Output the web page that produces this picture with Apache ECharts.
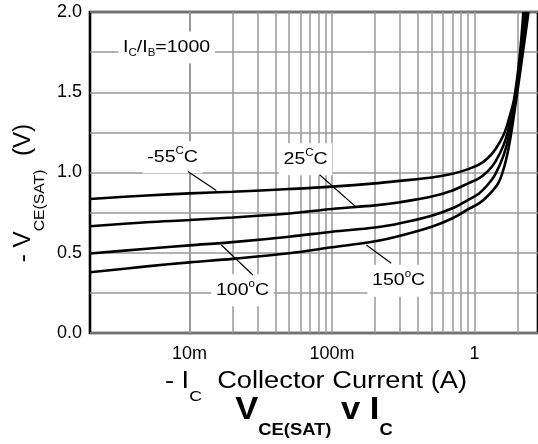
<!DOCTYPE html>
<html>
<head>
<meta charset="utf-8">
<script src="https://cdn.jsdelivr.net/npm/echarts@6/dist/echarts.min.js"></script>
<style>
html,body{margin:0;padding:0;background:#fff}
#main{width:538px;height:444px}
</style>
</head>
<body>
<div id="main"></div>
<script>
// [collector current (A), VCE(sat) (V)]
var curveM55 = [[0.002,0.835],[0.005,0.857],[0.01,0.870],[0.02,0.880],[0.05,0.897],[0.1,0.912],[0.2,0.932],[0.3,0.948],[0.5,0.969],[0.7,0.992],[0.9,1.021],[1.08,1.05],[1.24,1.09],[1.4,1.145],[1.6,1.235],[1.75,1.34],[1.9,1.465],[2.07,1.72],[2.2,2.0]];
var curve25 = [[0.002,0.665],[0.005,0.69],[0.01,0.704],[0.02,0.72],[0.05,0.745],[0.1,0.773],[0.2,0.795],[0.3,0.815],[0.5,0.85],[0.7,0.888],[0.9,0.932],[1.08,0.965],[1.24,1.008],[1.4,1.068],[1.6,1.172],[1.75,1.29],[1.9,1.445],[2.1,1.72],[2.26,2.0]];
var curve100 = [[0.002,0.495],[0.005,0.525],[0.01,0.546],[0.02,0.566],[0.05,0.6],[0.1,0.631],[0.2,0.657],[0.3,0.684],[0.5,0.731],[0.7,0.777],[0.9,0.829],[1.08,0.871],[1.24,0.925],[1.4,0.99],[1.6,1.108],[1.76,1.246],[1.93,1.455],[2.15,1.75],[2.32,2.0]];
var curve150 = [[0.002,0.378],[0.005,0.415],[0.01,0.44],[0.02,0.462],[0.05,0.497],[0.1,0.534],[0.2,0.572],[0.3,0.606],[0.5,0.662],[0.7,0.715],[0.9,0.771],[1.08,0.809],[1.24,0.855],[1.46,0.93],[1.62,1.04],[1.76,1.185],[1.96,1.455],[2.2,1.77],[2.39,2.0]];

var xTickValues = [0.01, 0.1, 1];
var xTickLabels = ['10m', '100m', '1'];

// labels: text, centre and leader line in data coords
var labelTexts = ['{a|-55}{p|C}{a|C}', '{a|25}{p|C}{a|C}', '{a|100}{p|o}{a|C}', '{a|150}{p|o}{a|C}', '{a|I}{s|C}{a|/I}{s|B}{a|=1000}'];
var labelAt = [[0.0076,1.095],[0.0652,1.0825],[0.0235,0.267],[0.293,0.326],[0.0069,1.779]];
var leaderFrom = [[0.00973,1.006],[0.0817,0.986],[0.0167,0.548],[0.174,0.548],null];
var leaderTo = [[0.0154,0.8875],[0.149,0.781],[0.0278,0.361],[0.26,0.434],null];

var FONT = 'Liberation Sans';

// grey vertical grid at 1..9 of every decade
var vGrid = [];
[0.001, 0.01, 0.1, 1].forEach(function (d) {
    for (var m = 1; m <= 9; m++) {
        var v = +(m * d).toPrecision(3);
        if (v > 0.002 && v <= 2.7) vGrid.push({xAxis: v});
    }
});

function curve(name, data) {
    return {
        name: name, type: 'line', data: data, showSymbol: false, smooth: 0.35,
        lineStyle: {color: '#000', width: 2.6}, silent: true, z: 5
    };
}

var series = [curve('-55', curveM55), curve('25', curve25), curve('100', curve100), curve('150', curve150)];
series[0].markLine = {
    silent: true, symbol: 'none', label: {show: false}, z: 1,
    lineStyle: {color: '#999', width: 1.5, type: 'solid'},
    data: vGrid
};

var myChart = echarts.init(document.getElementById('main'));
myChart.setOption({
    animation: false,
    grid: {left: 90, top: 12, width: 448, height: 321, show: true, borderColor: '#000', borderWidth: 2.6},
    xAxis: {
        type: 'log', logBase: 10, min: 0.002, max: 2.786,
        axisLine: {show: false}, axisTick: {show: false}, splitLine: {show: false},
        axisLabel: {
            interval: 0, color: '#000', fontFamily: FONT, fontSize: 18, margin: 12,
            showMinLabel: false, showMaxLabel: false,
            formatter: function (v) {
                for (var i = 0; i < xTickValues.length; i++) {
                    if (Math.abs(v / xTickValues[i] - 1) < 1e-6) return xTickLabels[i];
                }
                return '';
            }
        }
    },
    yAxis: {
        type: 'value', min: 0, max: 2, interval: 0.5,
        axisLine: {show: false}, axisTick: {show: false},
        splitLine: {lineStyle: {color: '#999', width: 1.5}},
        minorTick: {show: false, splitNumber: 2},
        minorSplitLine: {show: true, lineStyle: {color: '#999', width: 1.5}},
        axisLabel: {
            color: '#000', fontFamily: FONT, fontSize: 18, margin: 8,
            formatter: function (v) { return v.toFixed(1); }
        }
    },
    series: series
});

// annotations placed through the axes
var richBase = {
    a: {fontFamily: FONT, fontSize: 17, color: '#000'},
    p: {fontFamily: FONT, fontSize: 10, color: '#000', padding: [0, 0, 12, 0]},
    s: {fontFamily: FONT, fontSize: 10, color: '#000', padding: [12, 0, 0, 0]}
};
var graphics = [];
labelTexts.forEach(function (t, i) {
    var c = myChart.convertToPixel({gridIndex: 0}, labelAt[i]);
    graphics.push({
        type: 'text', x: c[0], y: c[1], z: 50, scaleX: 1.15, silent: true,
        style: {text: t, rich: richBase, align: 'center', verticalAlign: 'middle',
            backgroundColor: '#fff', padding: [5, 4]}
    });
    if (leaderFrom[i]) {
        var p1 = myChart.convertToPixel({gridIndex: 0}, leaderFrom[i]);
        var p2 = myChart.convertToPixel({gridIndex: 0}, leaderTo[i]);
        graphics.push({
            type: 'line', z: 60, silent: true,
            shape: {x1: p1[0], y1: p1[1], x2: p2[0], y2: p2[1]},
            style: {stroke: '#000', lineWidth: 1.2}
        });
    }
});

// axis names and title
graphics.push({
    type: 'text', x: 316, y: 382, z: 50, scaleX: 1.185, silent: true,
    style: {
        text: '{a|- I}{s|C}{a|  Collector Current (A)}', align: 'center', verticalAlign: 'middle',
        rich: {
            a: {fontFamily: FONT, fontSize: 23, color: '#000'},
            s: {fontFamily: FONT, fontSize: 15, color: '#000', padding: [30, 0, 0, 0]}
        }
    }
});
graphics.push({
    type: 'text', x: 24, y: 193, z: 50, rotation: Math.PI / 2, scaleX: 1.05, silent: true,
    style: {
        text: '{a|- V}{s|CE(SAT)}{a|  (V)}', align: 'center', verticalAlign: 'middle',
        rich: {
            a: {fontFamily: FONT, fontSize: 23, color: '#000'},
            s: {fontFamily: FONT, fontSize: 15, color: '#000', padding: [32, 0, 0, 0]}
        }
    }
});
graphics.push({
    type: 'text', x: 314, y: 410, z: 50, scaleX: 1.08, silent: true,
    style: {
        text: '{b|V}{bs|CE(SAT)}{b| v I}{bs|C}', align: 'center', verticalAlign: 'middle',
        rich: {
            b: {fontFamily: FONT, fontSize: 32, fontWeight: 'bold', color: '#000'},
            bs: {fontFamily: FONT, fontSize: 17, fontWeight: 'bold', color: '#000', padding: [40, 0, 0, 0]}
        }
    }
});
myChart.setOption({graphic: graphics});
</script>
</body>
</html>
